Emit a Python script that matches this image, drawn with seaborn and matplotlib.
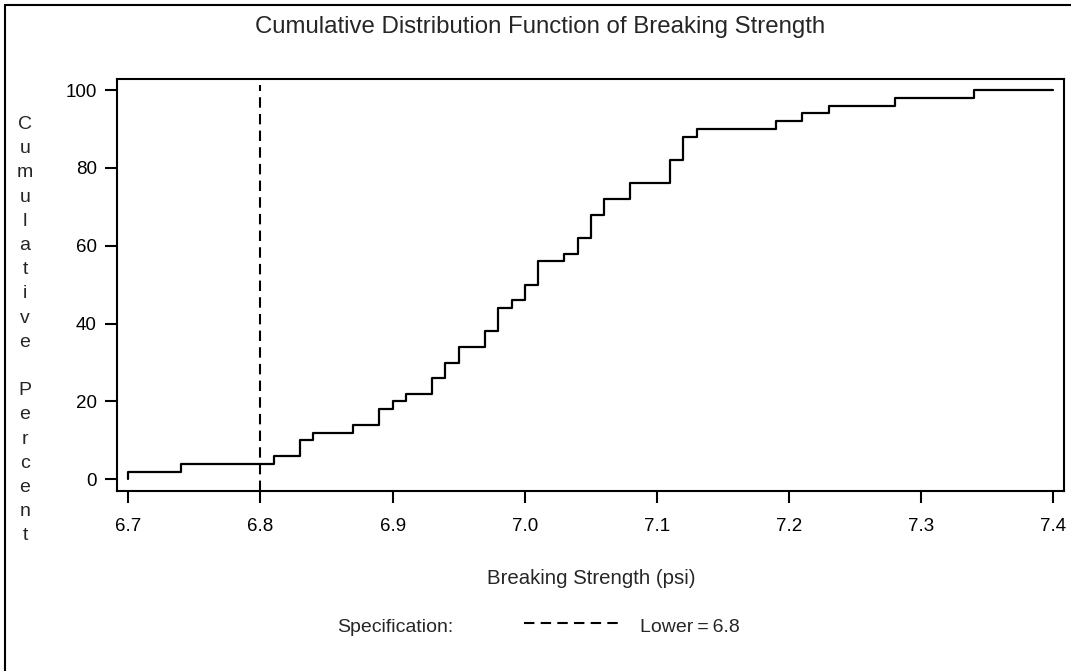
import numpy as np
import pandas as pd
import matplotlib
matplotlib.use("Agg")
import matplotlib.pyplot as plt
from matplotlib.lines import Line2D
import seaborn as sns

# ---- data ----
strength_values = [6.70, 6.74, 6.81, 6.83, 6.84, 6.87, 6.89, 6.90, 6.91, 6.93,
                   6.94, 6.95, 6.97, 6.98, 6.99, 7.00, 7.01, 7.03, 7.04, 7.05,
                   7.06, 7.08, 7.11, 7.12, 7.13, 7.19, 7.21, 7.23, 7.28, 7.34]
strength_counts = [1, 1, 1, 2, 1, 1, 2, 1, 1, 2,
                   2, 2, 2, 3, 1, 2, 3, 1, 2, 3,
                   2, 2, 3, 3, 1, 1, 1, 1, 1, 1]
lower_spec = 6.8
x_max = 7.40
x_ticks = [6.7, 6.8, 6.9, 7.0, 7.1, 7.2, 7.3, 7.4]
x_tick_labels = ["6.7", "6.8", "6.9", "7.0", "7.1", "7.2", "7.3", "7.4"]
y_ticks = [0, 20, 40, 60, 80, 100]
title = "Cumulative Distribution Function of Breaking Strength"
x_label = "Breaking Strength (psi)"
y_label = "Cumulative Percent"

# ---- empirical CDF ----
vals = np.array(strength_values)
cnts = np.array(strength_counts)
cum_pct = np.cumsum(cnts) / cnts.sum() * 100.0
cdf = pd.DataFrame({
    "x": np.r_[vals[0], vals, x_max],
    "y": np.r_[0.0, cum_pct, cum_pct[-1]],
})

sns.set_style("white")
plt.rcParams["font.family"] = ["Liberation Sans", "DejaVu Sans"]

W, H = 1071, 671
fig = plt.figure(figsize=(W / 100, H / 100), dpi=100)
L, R, T, B = 117, 1064, 79, 491
ax = fig.add_axes([L / W, 1 - B / H, (R - L) / W, (B - T) / H])

sns.lineplot(data=cdf, x="x", y="y", ax=ax, drawstyle="steps-post",
             estimator=None, sort=False, color="black", linewidth=1.6)

ax.axvline(lower_spec, ymin=0, ymax=0.985, color="black", linewidth=1.5,
           linestyle=(0, (5, 3)))

ax.set_xlim(6.6914, 7.4081)
ax.set_ylim(-3.0, 102.83)
ax.set_xticks(x_ticks)
ax.set_xticklabels(x_tick_labels)
ax.set_yticks(y_ticks)
ax.set_xlabel("")
ax.set_ylabel("")
for s in ax.spines.values():
    s.set_visible(True)
    s.set_color("black")
    s.set_linewidth(1.5)
ax.tick_params(axis="both", direction="out", length=8.5, width=1.5,
               colors="black", labelsize=13.5, bottom=True, left=True,
               top=False, right=False)
ax.tick_params(axis="x", pad=11)
ax.tick_params(axis="y", pad=6)
ax.grid(False)

# title
fig.text(540 / W, 1 - 33 / H, title, ha="center", va="baseline", fontsize=17.3)
# x label
fig.text(591 / W, 1 - 578 / H, x_label, ha="center", va="center", fontsize=14.7)
# stacked y label
chars = list(y_label)
for i, ch in enumerate(chars):
    if ch == " ":
        continue
    fig.text(25 / W, 1 - (129.0 + i * 24.2) / H, ch, ha="center", va="baseline",
             fontsize=14)

# legend
fig.text(337 / W, 1 - 628 / H, "Specification:", ha="left", va="center", fontsize=14)
fig.add_artist(Line2D([524 / W, 620 / W], [1 - 623 / H, 1 - 623 / H],
                      transform=fig.transFigure, color="black", linewidth=1.5,
                      linestyle=(0, (5, 3))))
fig.text(640 / W, 1 - 628 / H, f"Lower\u2009=\u2009{lower_spec}", ha="left",
         va="center", fontsize=14)

# outer border (top and left visible)
fig.add_artist(Line2D([5 / W, 1.0], [1 - 5 / H, 1 - 5 / H], transform=fig.transFigure,
                      color="black", linewidth=1.5))
fig.add_artist(Line2D([5 / W, 5 / W], [0.0, 1 - 5 / H], transform=fig.transFigure,
                      color="black", linewidth=1.5))

fig.savefig("out.png", dpi=100)
